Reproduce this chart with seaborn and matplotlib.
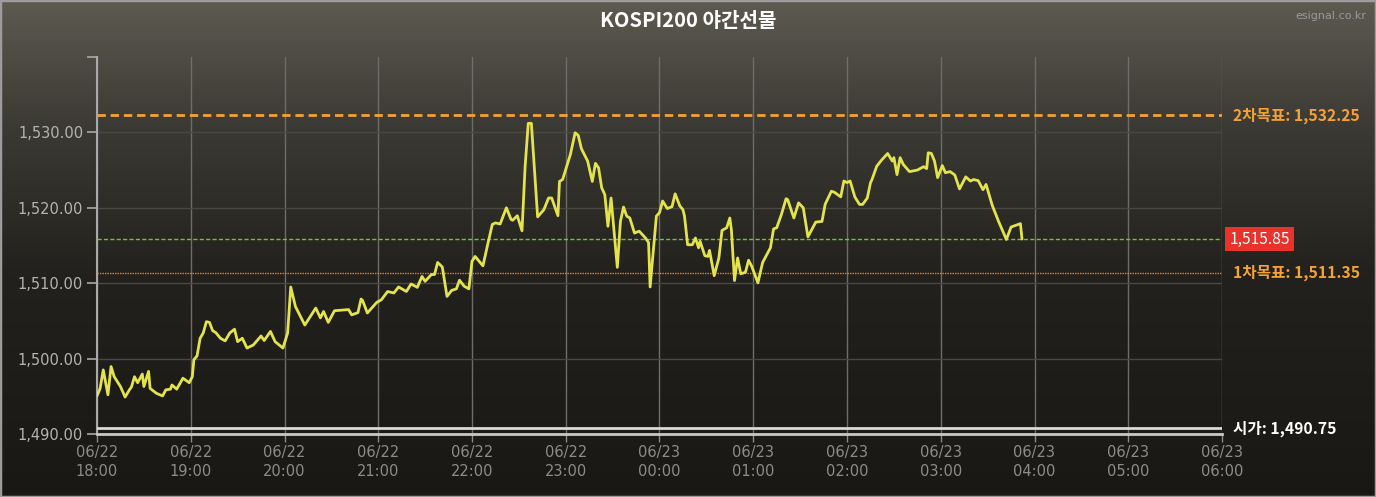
import numpy as np
import pandas as pd
import matplotlib
matplotlib.use('Agg')
import matplotlib.pyplot as plt
import matplotlib.transforms as mtransforms
from matplotlib.colors import LinearSegmentedColormap
from matplotlib.patches import Rectangle
import seaborn as sns

# 데이터 (18:00 기준 경과 분, 가격)
minutes = [0, 2, 4, 7, 9, 11, 15, 18, 21, 22, 24, 26, 29, 30, 33, 34, 38, 42, 44, 47,
           48, 51, 55, 59, 61, 62, 64, 66, 68, 70, 72, 74, 76, 79, 82, 85, 88, 90, 93, 96,
           100, 105, 107, 111, 114, 119, 122, 124, 127, 133, 140, 143, 145, 148, 152, 161, 163, 167, 169, 170,
           173, 179, 182, 186, 190, 193, 198, 201, 205, 208, 210, 214, 216, 218, 221, 224, 227, 230, 232, 235,
           238, 240, 242, 247, 250, 253, 255, 258, 262, 265, 266, 269, 272, 274, 276, 278, 282, 286, 289, 291,
           295, 296, 298, 301, 303, 306, 308, 310, 314, 317, 319, 321, 323, 325, 327, 329, 333, 335, 337, 339,
           341, 344, 347, 351, 353, 354, 358, 360, 362, 365, 368, 370, 373, 375, 376, 378, 381, 383, 385, 386,
           389, 391, 392, 395, 398, 400, 403, 405, 406, 408, 410, 412, 415, 417, 419, 423, 426, 431, 433, 435,
           438, 441, 442, 446, 449, 452, 455, 460, 464, 466, 470, 472, 476, 478, 480, 482, 485, 488, 490, 493,
           495, 496, 499, 502, 506, 509, 510, 512, 514, 516, 520, 525, 529, 531, 532, 534, 536, 538, 541, 543,
           546, 549, 552, 556, 559, 561, 564, 567, 569, 573, 577, 582, 585, 591, 592]
prices = [1495.05, 1496.05, 1498.5, 1495.2, 1498.95, 1497.6, 1496.3, 1494.9, 1495.95, 1496.2,
          1497.6, 1496.8, 1497.95, 1496.3, 1498.3, 1496.05, 1495.4, 1495.05, 1495.85, 1495.95,
          1496.5, 1495.95, 1497.4, 1496.8, 1497.6, 1499.85, 1500.35, 1502.7, 1503.4, 1504.9,
          1504.8, 1503.7, 1503.45, 1502.7, 1502.35, 1503.4, 1503.9, 1502.25, 1502.7, 1501.4,
          1501.8, 1503.0, 1502.4, 1503.6, 1502.25, 1501.4, 1503.4, 1509.5, 1506.9, 1504.45,
          1506.7, 1505.4, 1506.25, 1504.8, 1506.35, 1506.5, 1505.8, 1506.1, 1507.9, 1507.7,
          1506.05, 1507.45, 1507.8, 1508.9, 1508.7, 1509.5, 1508.9, 1509.9, 1509.45, 1510.9,
          1510.25, 1511.15, 1511.15, 1512.75, 1512.15, 1508.25, 1509.05, 1509.25, 1510.4, 1509.6,
          1509.25, 1512.9, 1513.55, 1512.3, 1515.1, 1517.8, 1518.0, 1517.85, 1520.0, 1518.45,
          1518.35, 1518.95, 1516.95, 1525.5, 1531.2, 1531.2, 1518.8, 1519.75, 1521.3, 1521.3,
          1518.95, 1523.5, 1523.75, 1525.75, 1527.1, 1529.95, 1529.6, 1527.85, 1526.2, 1523.5,
          1525.9, 1525.3, 1522.65, 1521.75, 1517.55, 1521.3, 1512.1, 1518.2, 1520.1, 1518.9,
          1518.65, 1516.65, 1516.9, 1516.0, 1515.4, 1509.5, 1518.9, 1519.35, 1520.9, 1519.9,
          1520.15, 1521.85, 1520.25, 1519.75, 1518.9, 1515.1, 1515.1, 1516.0, 1514.7, 1515.55,
          1513.65, 1513.55, 1514.35, 1511.0, 1513.35, 1517.0, 1517.35, 1518.65, 1517.1, 1510.35,
          1513.35, 1511.25, 1511.45, 1513.05, 1512.25, 1510.05, 1512.75, 1514.7, 1517.2, 1517.35,
          1519.1, 1521.2, 1521.1, 1518.65, 1520.65, 1520.0, 1516.15, 1518.1, 1518.2, 1520.45,
          1522.2, 1522.05, 1521.45, 1523.55, 1523.35, 1523.55, 1521.45, 1520.45, 1520.45, 1521.3,
          1523.3, 1523.75, 1525.5, 1526.3, 1527.2, 1526.2, 1526.65, 1524.4, 1526.65, 1525.75,
          1524.8, 1525.0, 1525.45, 1525.2, 1527.3, 1527.2, 1526.2, 1524.0, 1525.6, 1524.65,
          1524.8, 1524.35, 1522.5, 1524.1, 1523.55, 1523.75, 1523.6, 1522.4, 1523.1, 1520.3,
          1518.2, 1515.8, 1517.45, 1517.9, 1515.85]

hour_labels = ['06/22\n18:00', '06/22\n19:00', '06/22\n20:00', '06/22\n21:00', '06/22\n22:00',
               '06/22\n23:00', '06/23\n00:00', '06/23\n01:00', '06/23\n02:00', '06/23\n03:00',
               '06/23\n04:00', '06/23\n05:00', '06/23\n06:00']
y_ticks = [1490, 1500, 1510, 1520, 1530]

title = 'KOSPI200 야간선물'
target2 = 1532.25
target1 = 1511.35
current = 1515.85
open_price = 1490.75

sns.set_theme(style='dark')
plt.rcParams['font.family'] = ['Noto Sans CJK KR', 'DejaVu Sans']
plt.rcParams['lines.scale_dashes'] = False

fig = plt.figure(figsize=(13.76, 4.97), dpi=100)

# 배경 그라데이션
bg = fig.add_axes([0, 0, 1, 1], zorder=0)
grad = np.linspace(0, 1, 256).reshape(-1, 1)
cmap = LinearSegmentedColormap.from_list(
    'bg', [(0, '#5d5a51'), (0.25, '#3c3a34'), (0.55, '#23211d'), (1, '#1a1814')])
bg.imshow(grad, aspect='auto', cmap=cmap, extent=[0, 1, 0, 1])
bg.axis('off')
fig.patches.append(Rectangle((0, 0), 1, 1, transform=fig.transFigure, fill=False,
                             edgecolor='#9c9c9c', lw=2.5, zorder=5))

ax = fig.add_axes([97 / 1376, 63 / 497, 1125 / 1376, 377 / 497], zorder=1)
ax.patch.set_alpha(0)

df = pd.DataFrame({'minute': minutes, 'price': prices})
sns.lineplot(data=df, x='minute', y='price', ax=ax, color='#e3e44b', lw=2, zorder=4)

# 기준선
ax.axhline(target2, color='#f4a234', lw=2, dashes=(6, 3.5), zorder=3)
ax.axhline(current, color='#6cc24a', lw=1, dashes=(3, 1.6), zorder=3)
ax.axhline(target1, color='#e0862a', lw=1, dashes=(1, 0.8), zorder=3)
ax.axhline(open_price, color='#d9d9d9', lw=2, zorder=3)

ax.set_xlim(0, 720)
ax.set_ylim(1490, 1540)
ax.set_xticks(range(0, 721, 60))
ax.set_xticklabels(hour_labels)
ax.set_yticks(y_ticks)
ax.set_yticklabels([f'{v:,.2f}' for v in y_ticks])
ax.set_yticks([1540], minor=True)
ax.set_xlabel('')
ax.set_ylabel('')

ax.yaxis.grid(True, color='#4a4843', lw=1)
ax.xaxis.grid(True, color='#6f6d69', lw=1)
for s in ['top', 'right']:
    ax.spines[s].set_visible(False)
ax.spines['left'].set_color('#a9a9a9')
ax.spines['left'].set_linewidth(1.5)
ax.spines['bottom'].set_color('#c9c9c9')
ax.spines['bottom'].set_linewidth(2)

ax.tick_params(axis='y', which='both', direction='out', length=7, width=1.2,
               color='#a9a9a9', labelcolor='#b4b4b4', labelsize=10.5, pad=3, left=True)
ax.tick_params(axis='x', direction='out', length=6, width=1, color='#8a8a8a',
               labelcolor='#8c8c8c', labelsize=10.5, pad=2, bottom=True)
for lab in ax.get_yticklabels():
    lab.set_family(['Liberation Sans Narrow', 'DejaVu Sans'])
for lab in ax.get_xticklabels():
    lab.set_family(['Liberation Sans Narrow', 'DejaVu Sans'])
    lab.set_linespacing(1.3)

# 오른쪽 라벨
trans = mtransforms.blended_transform_factory(ax.transAxes, ax.transData)
ax.text(1.0098, target2, f'2차목표: {target2:,.2f}', transform=trans, color='#f4a234',
        fontsize=11.3, fontweight='bold', va='center', ha='left')
ax.text(1.0098, target1, f'1차목표: {target1:,.2f}', transform=trans, color='#f4a234',
        fontsize=11.3, fontweight='bold', va='center', ha='left')
ax.text(1.0098, open_price, f'시가: {open_price:,.2f}', transform=trans, color='#ffffff',
        fontsize=11.3, fontweight='bold', va='center', ha='left')
ax.text(1.0065, current, f'{current:,.2f}', transform=trans, color='#ffffff',
        fontsize=11.2, va='center', ha='left',
        bbox=dict(boxstyle='square,pad=0.25', facecolor='#e8322a', edgecolor='none'))

fig.text(0.5, 0.958, title, color='#ffffff', fontsize=14.5, fontweight='bold',
         ha='center', va='center')
fig.text(0.993, 0.968, 'esignal.co.kr', color='#9a9a9a', fontsize=8,
         ha='right', va='center', family=['DejaVu Sans'])

fig.savefig('out.png', dpi=100)
